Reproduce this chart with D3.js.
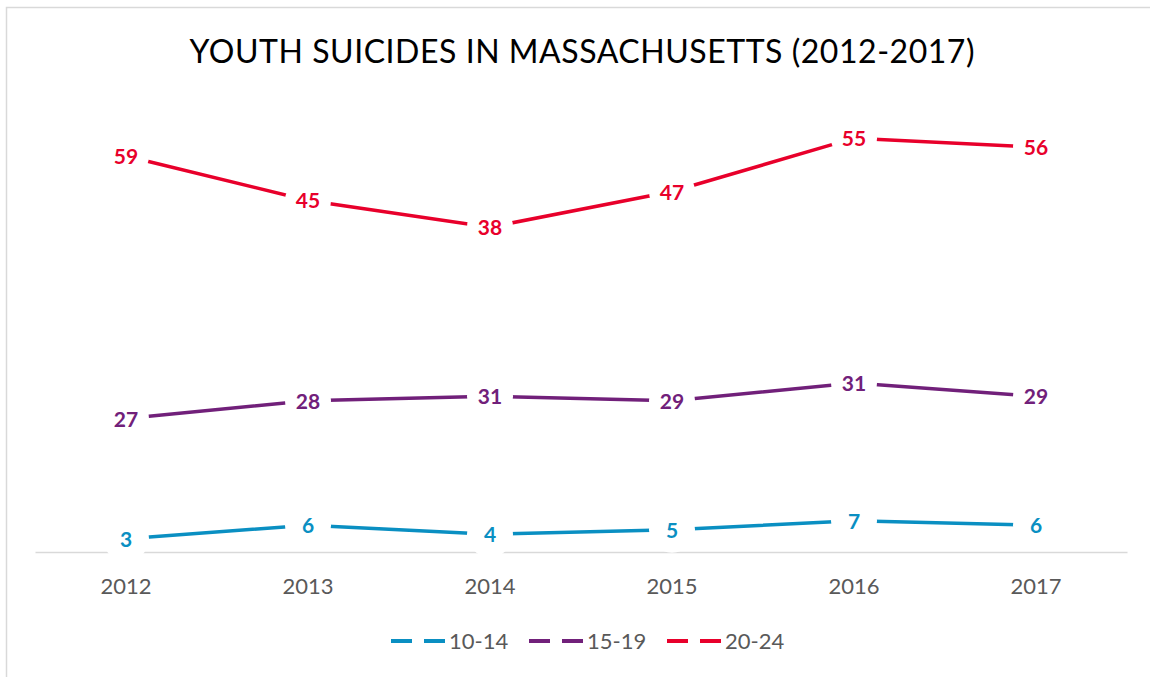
<!DOCTYPE html>
<html>
<head>
<meta charset="utf-8">
<script src="https://cdnjs.cloudflare.com/ajax/libs/d3/7.8.5/d3.min.js"></script>
<style>
    html, body { margin: 0; padding: 0; background: #fff; }
    svg { display: block; }
</style>
</head>
<body>
<div id="chart"></div>
<script>
// chart data
const years = ["2012", "2013", "2014", "2015", "2016", "2017"];
const ages10to14 = [3, 6, 4, 5, 7, 6];
const ages15to19 = [27, 28, 31, 29, 31, 29];
const ages20to24 = [59, 45, 38, 47, 55, 56];
const seriesNames = ["10-14", "15-19", "20-24"];
const seriesColors = ["#0a8fc2", "#71207a", "#e8002b"];

const width = 1150, height = 677;
const margin = {left: 35, right: 23, top: 107, bottom: 125};

var svg = d3.select("#chart")
    .append("svg")
    .attr("width", width)
    .attr("height", height);

// outer chart border (only top/left visible in the frame)
svg.append("rect")
    .attr("x", 6.5)
    .attr("y", 7.5)
    .attr("width", width)
    .attr("height", height)
    .style("fill", "none")
    .style("stroke", "#d9d9d9")
    .style("stroke-width", 1.5);

// title
svg.append("text")
    .attr("x", 582)
    .attr("y", 63)
    .attr("text-anchor", "middle")
    .attr("textLength", 785)
    .attr("lengthAdjust", "spacing")
    .style("font-family", "Lato, 'Open Sans', sans-serif")
    .style("font-size", "32px")
    .style("fill", "#000")
    .text("YOUTH SUICIDES IN MASSACHUSETTS (2012-2017)");

// stacked line chart, like the original
var rows = years.map(function (y, i) {
    return {year: y, "10-14": ages10to14[i], "15-19": ages15to19[i], "20-24": ages20to24[i]};
});
var stacked = d3.stack().keys(seriesNames)(rows);

var x = d3.scaleBand()
    .domain(years)
    .range([margin.left, width - margin.right]);
var cx = function (year) { return x(year) + x.bandwidth() / 2; };

var y = d3.scaleLinear()
    .domain([0, 100])
    .range([height - margin.bottom, margin.top]);

// x axis
var xAxis = svg.append("g")
    .attr("transform", "translate(0," + y(0) + ")")
    .call(d3.axisBottom(x).tickSize(0).tickSizeOuter(0));
xAxis.select(".domain")
    .style("stroke", "#d9d9d9")
    .style("stroke-width", 1.5);
xAxis.selectAll("text")
    .attr("y", 42)
    .attr("dy", 0)
    .style("font-family", "Lato, 'Open Sans', sans-serif")
    .style("font-size", "22px")
    .style("fill", "#595959");

// lines
var line = d3.line()
    .x(function (d) { return cx(d.data.year); })
    .y(function (d) { return y(d[1]); });

svg.selectAll(".series")
    .data(stacked)
    .enter()
    .append("path")
    .attr("class", "series")
    .attr("d", line)
    .style("fill", "none")
    .style("stroke", function (d, i) { return seriesColors[i]; })
    .style("stroke-width", 3.5);

// data labels with white glow behind
var labels = svg.selectAll(".labels")
    .data(stacked)
    .enter()
    .append("g")
    .attr("class", "labels")
    .style("fill", function (d, i) { return seriesColors[i]; });

var lab = labels.selectAll("g")
    .data(function (s) { return s.map(function (d) { return {key: s.key, d: d}; }); })
    .enter()
    .append("g")
    .attr("transform", function (p) {
        return "translate(" + cx(p.d.data.year) + "," + y(p.d[1]) + ")";
    });

lab.append("circle")
    .attr("r", 23)
    .style("fill", "#fff");

lab.append("text")
    .attr("y", 8)
    .attr("text-anchor", "middle")
    .style("font-family", "Lato, 'Open Sans', sans-serif")
    .style("font-weight", "bold")
    .style("font-size", "21px")
    .text(function (p) { return p.d.data[p.key]; });

// legend
var legend = svg.append("g")
    .attr("transform", "translate(391,641)");

var item = legend.selectAll("g")
    .data(seriesNames)
    .enter()
    .append("g")
    .attr("transform", function (d, i) { return "translate(" + (i * 138) + ",0)"; });

item.append("line")
    .attr("x1", 0).attr("x2", 21)
    .attr("y1", 0).attr("y2", 0)
    .style("stroke", function (d, i) { return seriesColors[i]; })
    .style("stroke-width", 4);
item.append("line")
    .attr("x1", 33).attr("x2", 54)
    .attr("y1", 0).attr("y2", 0)
    .style("stroke", function (d, i) { return seriesColors[i]; })
    .style("stroke-width", 4);
item.append("text")
    .attr("x", 58)
    .attr("y", 8)
    .style("font-family", "Lato, 'Open Sans', sans-serif")
    .style("font-size", "22px")
    .style("fill", "#595959")
    .text(function (d) { return d; });
</script>
</body>
</html>
